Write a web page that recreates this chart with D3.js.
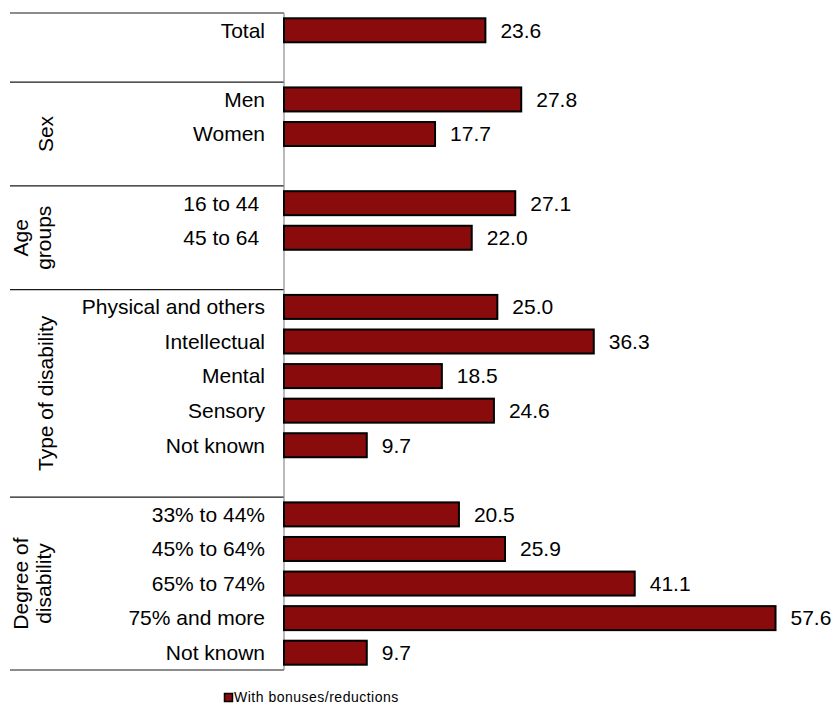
<!DOCTYPE html>
<html>
<head>
<meta charset="utf-8">
<script src="https://cdnjs.cloudflare.com/ajax/libs/d3/7.8.5/d3.min.js"></script>
<style>
  body { margin: 0; background: #fff; }
  svg text { font-family: "Liberation Sans", Arial, sans-serif; fill: #000; }
</style>
</head>
<body>
<div id="chart"></div>
<script>
// rows (blank entries are the spacer rows between groups)
var categories = ["Total", "", "Men", "Women", "", "16 to 44 ", "45 to 64 ", "",
  "Physical and others", "Intellectual", "Mental", "Sensory", "Not known", "",
  "33% to 44%", "45% to 64%", "65% to 74%", "75% and more", "Not known"];
var values = [23.6, null, 27.8, 17.7, null, 27.1, 22.0, null,
  25.0, 36.3, 18.5, 24.6, 9.7, null,
  20.5, 25.9, 41.1, 57.6, 9.7];
var groupLabels = [[], ["Sex"], ["Age", "groups"], ["Type of disability"], ["Degree of", "disability"]];
var groupStart = [0, 2, 5, 8, 14];
var groupEnd = [1, 4, 7, 13, 18];
var seriesName = "With bonuses/reductions";

var width = 833, height = 705;
var barColor = "#8a0b0b";

var svg = d3.select("#chart").append("svg")
  .attr("width", width)
  .attr("height", height);

var x = d3.scaleLinear().domain([0, 60]).range([284, 796]);
var y = d3.scaleBand().domain(d3.range(categories.length)).range([13, 670]).padding(0);
var barH = 24;

// group separators
var seps = [groupStart[0]].concat(groupEnd.map(function(e) { return e + 1; }));
svg.selectAll("line.sep").data(seps).enter().append("line")
  .attr("class", "sep")
  .attr("x1", 10).attr("x2", x(0))
  .attr("y1", function(d) { return d < categories.length ? y(d) : y.range()[1]; })
  .attr("y2", function(d) { return d < categories.length ? y(d) : y.range()[1]; })
  .attr("stroke", "#1a1a1a").attr("stroke-width", 1.2);

// axis line
svg.append("line")
  .attr("x1", x(0)).attr("x2", x(0))
  .attr("y1", y.range()[0]).attr("y2", y.range()[1])
  .attr("stroke", "#8c8c8c").attr("stroke-width", 1.2);

var rows = d3.range(categories.length);

// bars
svg.selectAll("rect.bar").data(rows.filter(function(i) { return values[i] != null; }))
  .enter().append("rect")
  .attr("class", "bar")
  .attr("x", x(0))
  .attr("y", function(i) { return y(i) + y.bandwidth() / 2 - barH / 2; })
  .attr("width", function(i) { return x(values[i]) - x(0); })
  .attr("height", barH)
  .attr("fill", barColor)
  .attr("stroke", "#000").attr("stroke-width", 2);

// value labels
svg.selectAll("text.val").data(rows.filter(function(i) { return values[i] != null; }))
  .enter().append("text")
  .attr("class", "val")
  .attr("x", function(i) { return x(values[i]) + 15; })
  .attr("y", function(i) { return y(i) + y.bandwidth() / 2; })
  .attr("dy", "0.35em")
  .style("font-size", "21px")
  .text(function(i) { return values[i].toFixed(1); });

// category labels
svg.selectAll("text.cat").data(rows.filter(function(i) { return categories[i] !== ""; }))
  .enter().append("text")
  .attr("class", "cat")
  .attr("x", 265)
  .attr("y", function(i) { return y(i) + y.bandwidth() / 2; })
  .attr("dy", "0.35em")
  .attr("text-anchor", "end")
  .style("font-size", "21px")
  .style("white-space", "pre")
  .text(function(i) { return categories[i]; });

// group labels (rotated)
groupLabels.forEach(function(lines, g) {
  if (!lines.length) return;
  var cy = (y(groupStart[g]) + y(groupEnd[g]) + y.bandwidth()) / 2;
  var bases = lines.length === 1 ? [53] : [28, 51];
  lines.forEach(function(t, k) {
    svg.append("text")
      .attr("transform", "translate(" + bases[k] + "," + cy + ") rotate(-90)")
      .attr("text-anchor", "middle")
      .style("font-size", "21px")
      .text(t);
  });
});

// legend
svg.append("rect")
  .attr("x", 224.5).attr("y", 693.5)
  .attr("width", 8).attr("height", 8)
  .attr("fill", barColor)
  .attr("stroke", "#000").attr("stroke-width", 1.5);
svg.append("text")
  .attr("x", 234).attr("y", 702)
  .style("font-size", "14px")
  .style("letter-spacing", "0.5px")
  .text(seriesName);
</script>
</body>
</html>
